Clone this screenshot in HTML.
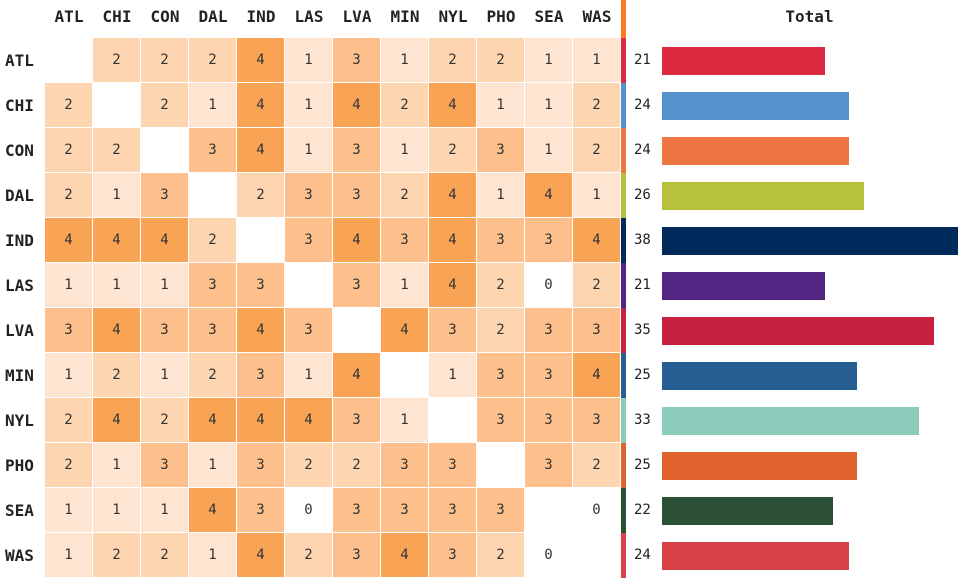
<!DOCTYPE html><html><head><meta charset="utf-8"><style>
body{margin:0;width:960px;height:586px;background:#fff;overflow:hidden;font-family:"DejaVu Sans Mono","Liberation Mono",monospace;position:relative}
.a{position:absolute}
.h{font-weight:bold;font-size:16px;color:#222;text-align:center;width:48px;top:7px}
.r{font-weight:bold;font-size:16px;color:#222;left:5px;width:40px;height:45px;line-height:45px}
.c{width:47px;height:44px;line-height:44px;text-align:center;font-size:14px;color:#333}
.n{left:634px;font-size:14px;color:#222;height:45px;line-height:45px}
</style></head><body>
<div class="a" style="left:621px;top:0;width:5px;height:38px;background:#f97a22"></div>
<div class="a" style="left:662px;top:7px;width:295px;text-align:center;font-weight:bold;font-size:16px;color:#222">Total</div>
<div id="g"></div>
<script>
var t=["ATL","CHI","CON","DAL","IND","LAS","LVA","MIN","NYL","PHO","SEA","WAS"];
var col=["#dc2a41","#5591cb","#ef7643","#b7c13c","#002a5c","#522582","#c8213f","#266092","#8accb9","#e0622c","#2c5036","#d8434a"];
var d=[[-1,2,2,2,4,1,3,1,2,2,1,1],[2,-1,2,1,4,1,4,2,4,1,1,2],[2,2,-1,3,4,1,3,1,2,3,1,2],[2,1,3,-1,2,3,3,2,4,1,4,1],[4,4,4,2,-1,3,4,3,4,3,3,4],[1,1,1,3,3,-1,3,1,4,2,0,2],[3,4,3,3,4,3,-1,4,3,2,3,3],[1,2,1,2,3,1,4,-1,1,3,3,4],[2,4,2,4,4,4,3,1,-1,3,3,3],[2,1,3,1,3,2,2,3,3,-1,3,2],[1,1,1,4,3,0,3,3,3,3,-1,0],[1,2,2,1,4,2,3,4,3,2,0,-1]];
var tot=[21,24,24,26,38,21,35,25,33,25,22,24];
var cc=["#fff","#fee5d2","#fdd5b1","#fdbf8b","#f9a354"];
var h="";
for(var i=0;i<12;i++){
h+='<div class="a h" style="left:'+(45+i*48)+'px">'+t[i]+'</div>';
var y=38+i*45;
h+='<div class="a r" style="top:'+y+'px">'+t[i]+'</div>';
for(var j=0;j<12;j++){var v=d[i][j];if(v<0)continue;
h+='<div class="a c" style="left:'+(45+j*48)+'px;top:'+y+'px;background:'+cc[v]+'">'+v+'</div>';}
h+='<div class="a" style="left:621px;top:'+y+'px;width:5px;height:45px;background:'+col[i]+'"></div>';
h+='<div class="a n" style="top:'+y+'px">'+tot[i]+'</div>';
h+='<div class="a" style="left:662px;top:'+(y+9)+'px;height:28px;width:'+Math.round(tot[i]*7.78)+'px;background:'+col[i]+'"></div>';
}
document.getElementById("g").innerHTML=h;
</script>
</body></html>
